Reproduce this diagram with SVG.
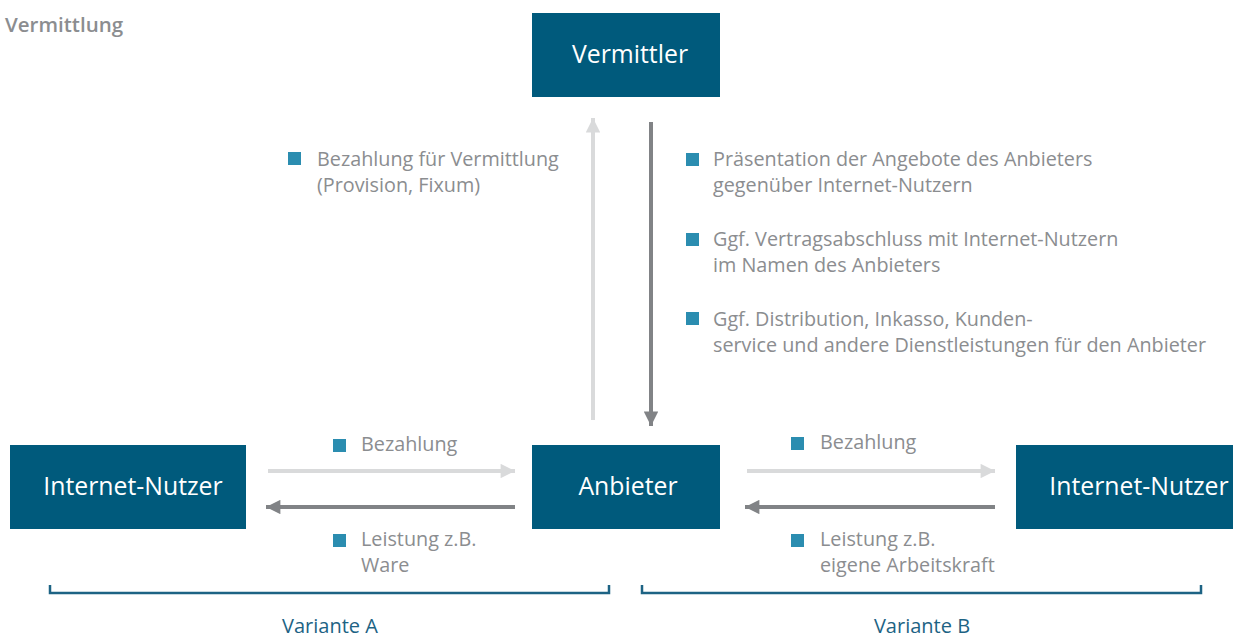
<svg xmlns="http://www.w3.org/2000/svg" width="1243" height="637" viewBox="0 0 1243 637">
<style>
.box{fill:#005a7c}
.bt{fill:#ffffff;font-family:"Open Sans","Liberation Sans",sans-serif;font-size:24.8px;text-anchor:middle}
.t{fill:#8b8d90;font-family:"Open Sans","Liberation Sans",sans-serif;font-size:19.8px}
.sq{fill:#2b8db0}
.lt{stroke:#d9dadb;stroke-width:4;fill:none}
.dk{stroke:#818386;stroke-width:4;fill:none}
.br{stroke:#1d6384;stroke-width:2.5;fill:none}
.var{fill:#1d6384;font-family:"Open Sans","Liberation Sans",sans-serif;font-size:20px;text-anchor:middle}
</style>
<defs>
<marker id="ahl" viewBox="0 0 10 10" refX="10" refY="5" markerWidth="4.5" markerHeight="3.6" orient="auto" markerUnits="strokeWidth"><path d="M0,0 L10,5 L0,10 z" fill="#d9dadb"/></marker>
<marker id="ahd" viewBox="0 0 10 10" refX="10" refY="5" markerWidth="4.5" markerHeight="3.6" orient="auto" markerUnits="strokeWidth"><path d="M0,0 L10,5 L0,10 z" fill="#818386"/></marker>
</defs>
<text x="5" y="32" class="t" style="font-weight:600;font-size:20.5px">Vermittlung</text>
<g id="connectors">
<line class="lt" x1="593" y1="420" x2="593" y2="118" marker-end="url(#ahl)"/>
<line class="dk" x1="651" y1="122" x2="651" y2="426" marker-end="url(#ahd)"/>
<line class="lt" x1="268" y1="471" x2="515" y2="471" marker-end="url(#ahl)"/>
<line class="dk" x1="515" y1="507" x2="266" y2="507" marker-end="url(#ahd)"/>
<line class="lt" x1="747" y1="471" x2="995" y2="471" marker-end="url(#ahl)"/>
<line class="dk" x1="995" y1="507" x2="745" y2="507" marker-end="url(#ahd)"/>
</g>
<g id="vermittler"><rect class="box" x="532" y="13" width="188" height="84"/><text class="bt" x="630" y="63">Vermittler</text></g>
<g id="anbieter"><rect class="box" x="532" y="445" width="188" height="84"/><text class="bt" x="628" y="495">Anbieter</text></g>
<g id="nutzer-a"><rect class="box" x="10" y="445" width="236" height="84"/><text class="bt" x="133" y="495">Internet-Nutzer</text></g>
<g id="nutzer-b"><rect class="box" x="1016" y="445" width="217" height="84"/><text class="bt" x="1139" y="495">Internet-Nutzer</text></g>
<g id="labels">
<rect class="sq" x="288" y="152" width="13" height="13"/>
<text class="t" x="317" y="166">Bezahlung für Vermittlung</text>
<text class="t" x="317" y="192">(Provision, Fixum)</text>
<rect class="sq" x="686" y="153" width="13" height="13"/>
<text class="t" x="713" y="166">Präsentation der Angebote des Anbieters</text>
<text class="t" x="713" y="192">gegenüber Internet-Nutzern</text>
<rect class="sq" x="686" y="233" width="13" height="13"/>
<text class="t" x="713" y="246">Ggf. Vertragsabschluss mit Internet-Nutzern</text>
<text class="t" x="713" y="272">im Namen des Anbieters</text>
<rect class="sq" x="686" y="312" width="13" height="13"/>
<text class="t" x="713" y="326">Ggf. Distribution, Inkasso, Kunden-</text>
<text class="t" x="713" y="352">service und andere Dienstleistungen für den Anbieter</text>
<rect class="sq" x="333" y="439" width="13" height="13"/>
<text class="t" x="361" y="451">Bezahlung</text>
<rect class="sq" x="333" y="534" width="13" height="13"/>
<text class="t" x="361" y="546">Leistung z.B.</text>
<text class="t" x="361" y="572">Ware</text>
<rect class="sq" x="791" y="437" width="13" height="13"/>
<text class="t" x="820" y="449">Bezahlung</text>
<rect class="sq" x="791" y="534" width="13" height="13"/>
<text class="t" x="820" y="546">Leistung z.B.</text>
<text class="t" x="820" y="572">eigene Arbeitskraft</text>
</g>
<g id="variante-a">
<path class="br" d="M50,585 V593 H609 V585"/>
<text class="var" x="330" y="633">Variante A</text>
</g>
<g id="variante-b">
<path class="br" d="M642,585 V593 H1201 V585"/>
<text class="var" x="922" y="633">Variante B</text>
</g>
</svg>
